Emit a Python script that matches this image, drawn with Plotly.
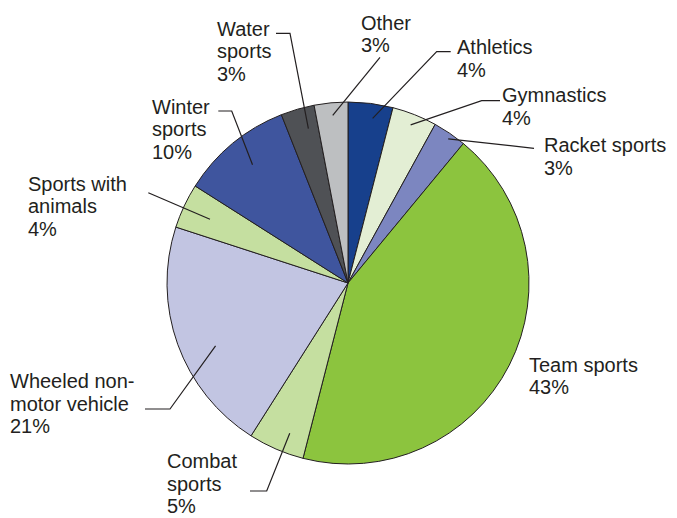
import math
import plotly.graph_objects as go

W, H = 677, 518

# Share of sports-related injuries by activity (percent), clockwise from 12 o'clock
categories = ["Athletics", "Gymnastics", "Racket sports", "Team sports", "Combat sports",
              "Wheeled non-motor vehicle", "Sports with animals", "Winter sports",
              "Water sports", "Other"]
values = [4, 4, 3, 43, 5, 21, 4, 10, 3, 3]
colors = ["#17408c", "#e3eed4", "#7c86c0", "#8cc43e", "#c5dfa0",
          "#c2c5e2", "#c5dfa0", "#3f559e", "#4f5155", "#bdbfc1"]

# Label text lines for each category
label_lines = {
    "Athletics": ["Athletics"],
    "Gymnastics": ["Gymnastics"],
    "Racket sports": ["Racket sports"],
    "Team sports": ["Team sports"],
    "Combat sports": ["Combat", "sports"],
    "Wheeled non-motor vehicle": ["Wheeled non-", "motor vehicle"],
    "Sports with animals": ["Sports with", "animals"],
    "Winter sports": ["Winter", "sports"],
    "Water sports": ["Water", "sports"],
    "Other": ["Other"],
}

# Layout in pixels: pie centre and radius
CX, CY, R = 348, 283, 181

# Label placement: left x, first baseline (px)
label_pos = {
    "Athletics": (456, 53.5),
    "Gymnastics": (501, 101.7),
    "Racket sports": (543, 151.7),
    "Team sports": (528, 371),
    "Combat sports": (166, 467.5),
    "Wheeled non-motor vehicle": (9, 387.7),
    "Sports with animals": (27, 190),
    "Winter sports": (151, 113.3),
    "Water sports": (216, 35),
    "Other": (360, 29.3),
}
LINE_STEP = 22.6

# Leader lines: outer start, optional elbow, radial fraction + angle tweak of inner end
leaders = {
    "Water sports": ((276, 33.3), (290, 33.3), 0.88, 1.8),
    "Other": ((380, 57.3), None, 0.93, 0.2),
    "Athletics": ((450.7, 51.7), (436.7, 51.7), 0.92, 1.3),
    "Gymnastics": ((500, 100.7), (481.7, 100.7), 0.94, 0.0),
    "Racket sports": ((534, 148.3), None, 0.97, 0.6),
    "Combat sports": ((250, 491), (266.7, 491), 0.89, -2.2),
    "Wheeled non-motor vehicle": ((145, 409), (170, 409), 0.81, -5.6),
    "Sports with animals": ((148.3, 192.7), None, 0.84, -0.4),
    "Winter sports": ((218.3, 111), (231.7, 111), 0.84, 0.7),
}

TEXT = "#231f20"
FONT = "Liberation Sans, Arial, Helvetica, sans-serif"


def px(x):
    return x / W


def py(y):
    return 1 - y / H


fig = go.Figure(go.Pie(
    labels=categories,
    values=values,
    sort=False,
    direction="clockwise",
    rotation=0,
    marker=dict(colors=colors, line=dict(color="#231f20", width=1)),
    textinfo="none",
    hoverinfo="label+percent",
    showlegend=False,
    domain=dict(x=[px(CX - R), px(CX + R)], y=[py(CY + R), py(CY - R)]),
))

annotations = []
shapes = []
total = sum(values)
cum = 0
for cat, v in zip(categories, values):
    mid = (cum + v / 2) / total * 360
    cum += v
    lx, ly = label_pos[cat]
    lines = label_lines[cat] + [f"{round(100 * v / total)}%"]
    for i, t in enumerate(lines):
        annotations.append(dict(
            x=px(lx), y=py(ly + i * LINE_STEP - 6.5), xref="paper", yref="paper",
            text=t, showarrow=False, xanchor="left", yanchor="middle",
            borderpad=0,
            font=dict(family=FONT, size=20, color=TEXT),
        ))
    if cat in leaders:
        start, elbow, frac, tweak = leaders[cat]
        a = math.radians(mid + tweak)
        ex = CX + frac * R * math.sin(a)
        ey = CY - frac * R * math.cos(a)
        pts = [start] + ([elbow] if elbow else []) + [(ex, ey)]
        path = "M " + " L ".join(f"{px(x):.5f},{py(y):.5f}" for x, y in pts)
        shapes.append(dict(type="path", path=path, xref="paper", yref="paper",
                           line=dict(color=TEXT, width=1.2)))

fig.update_layout(
    width=W, height=H,
    margin=dict(l=0, r=0, t=0, b=0),
    paper_bgcolor="white",
    plot_bgcolor="white",
    annotations=annotations,
    shapes=shapes,
)

fig.write_html("out.html")
